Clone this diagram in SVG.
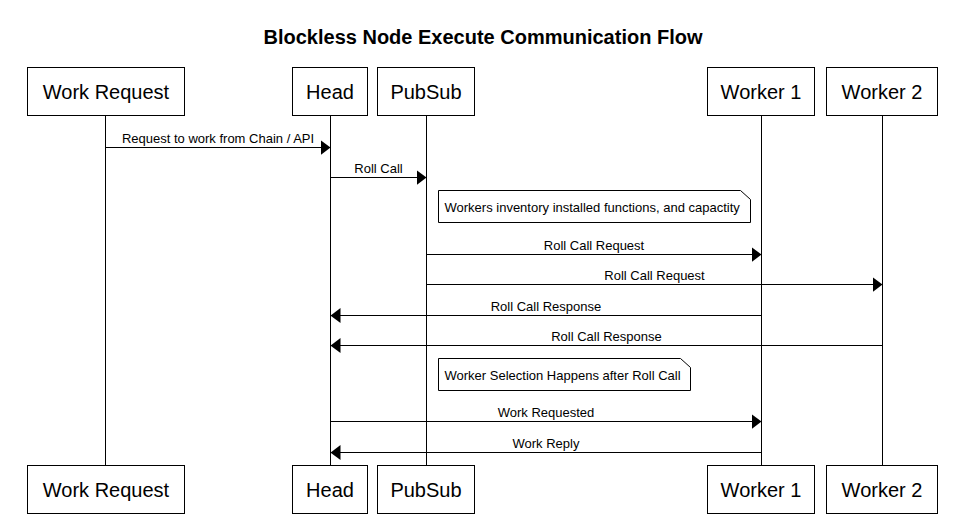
<svg xmlns="http://www.w3.org/2000/svg" width="962" height="526" viewBox="0 0 962 526">
<style>
  .box { fill: #fff; stroke: #000; stroke-width: 1; }
  .life { stroke: #000; stroke-width: 1; fill: none; }
  .msg { stroke: #000; stroke-width: 1; fill: none; marker-end: url(#arrow); }
  .plabel { font-family: "Liberation Sans", Arial, sans-serif; font-size: 20px; text-anchor: middle; fill: #000; }
  .mlabel { font-family: "Liberation Sans", Arial, sans-serif; font-size: 13px; text-anchor: middle; fill: #000; }
  .nlabel { font-family: "Liberation Sans", Arial, sans-serif; font-size: 13px; text-anchor: start; fill: #000; }
  .title { font-family: "Liberation Sans", Arial, sans-serif; font-size: 20px; font-weight: bold; text-anchor: middle; fill: #000; }
  .note { fill: #fff; stroke: #000; stroke-width: 1; }
</style>
<defs>
  <marker id="arrow" markerUnits="userSpaceOnUse" markerWidth="10" markerHeight="16" refX="10" refY="8" orient="auto" viewBox="0 0 10 16">
    <path d="M0,0.5 L10,8 L0,15.5 Z" fill="#000"/>
  </marker>
</defs>
<rect width="962" height="526" fill="#fff"/>
<text class="title" x="483" y="44">Blockless Node Execute Communication Flow</text>

<g id="lifelines">
  <line class="life" x1="105.5" y1="115.5" x2="105.5" y2="465.5"/>
  <line class="life" x1="330.5" y1="115.5" x2="330.5" y2="465.5"/>
  <line class="life" x1="426.5" y1="115.5" x2="426.5" y2="465.5"/>
  <line class="life" x1="761.5" y1="115.5" x2="761.5" y2="465.5"/>
  <line class="life" x1="882.5" y1="115.5" x2="882.5" y2="465.5"/>
</g>

<g id="work-request">
  <rect class="box" x="27.5" y="67.5" width="157" height="48"/>
  <text class="plabel" x="106" y="99">Work Request</text>
  <rect class="box" x="27.5" y="465.5" width="157" height="48"/>
  <text class="plabel" x="106" y="497">Work Request</text>
</g>
<g id="head">
  <rect class="box" x="292.5" y="67.5" width="75" height="48"/>
  <text class="plabel" x="330" y="99">Head</text>
  <rect class="box" x="292.5" y="465.5" width="75" height="48"/>
  <text class="plabel" x="330" y="497">Head</text>
</g>
<g id="pubsub">
  <rect class="box" x="377.5" y="67.5" width="97" height="48"/>
  <text class="plabel" x="426" y="99">PubSub</text>
  <rect class="box" x="377.5" y="465.5" width="97" height="48"/>
  <text class="plabel" x="426" y="497">PubSub</text>
</g>
<g id="worker1">
  <rect class="box" x="707.5" y="67.5" width="107" height="48"/>
  <text class="plabel" x="761" y="99">Worker 1</text>
  <rect class="box" x="707.5" y="465.5" width="107" height="48"/>
  <text class="plabel" x="761" y="497">Worker 1</text>
</g>
<g id="worker2">
  <rect class="box" x="826.5" y="67.5" width="111" height="48"/>
  <text class="plabel" x="882" y="99">Worker 2</text>
  <rect class="box" x="826.5" y="465.5" width="111" height="48"/>
  <text class="plabel" x="882" y="497">Worker 2</text>
</g>

<g id="note1">
  <path class="note" d="M438.5,190.5 H740.5 L750.5,199.5 V222.5 H438.5 Z"/>
  <text class="nlabel" x="444.5" y="212">Workers inventory installed functions, and capactity</text>
</g>
<g id="note2">
  <path class="note" d="M438.5,358.5 H680.5 L690.5,367.5 V390.5 H438.5 Z"/>
  <text class="nlabel" x="444.5" y="380">Worker Selection Happens after Roll Call</text>
</g>

<g id="connectors">
  <line class="msg" x1="105.5" y1="147.5" x2="330.5" y2="147.5"/>
  <text class="mlabel" x="218" y="143">Request to work from Chain / API</text>
  <line class="msg" x1="330.5" y1="177.5" x2="426.5" y2="177.5"/>
  <text class="mlabel" x="378.5" y="173">Roll Call</text>
  <line class="msg" x1="426.5" y1="254.5" x2="761.5" y2="254.5"/>
  <text class="mlabel" x="594" y="250">Roll Call Request</text>
  <line class="msg" x1="426.5" y1="284.5" x2="882.5" y2="284.5"/>
  <text class="mlabel" x="654.5" y="280">Roll Call Request</text>
  <line class="msg" x1="761.5" y1="315.5" x2="330.5" y2="315.5"/>
  <text class="mlabel" x="546" y="311">Roll Call Response</text>
  <line class="msg" x1="882.5" y1="345.5" x2="330.5" y2="345.5"/>
  <text class="mlabel" x="606.5" y="341">Roll Call Response</text>
  <line class="msg" x1="330.5" y1="421.5" x2="761.5" y2="421.5"/>
  <text class="mlabel" x="546" y="417">Work Requested</text>
  <line class="msg" x1="761.5" y1="452.5" x2="330.5" y2="452.5"/>
  <text class="mlabel" x="546" y="448">Work Reply</text>
</g>
</svg>
